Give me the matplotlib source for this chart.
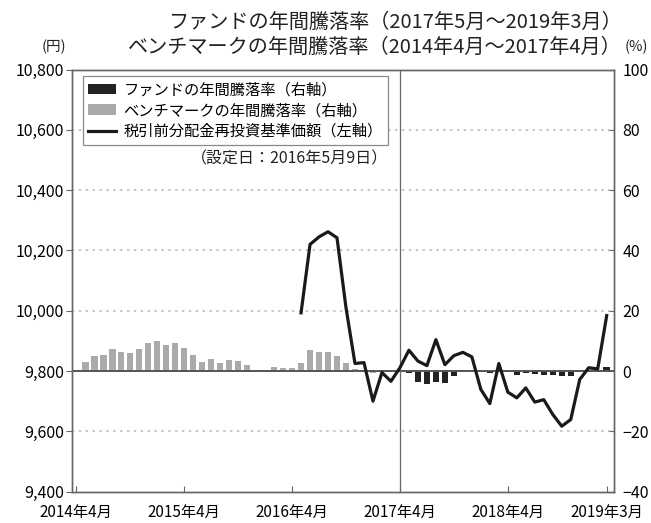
import numpy as np
import matplotlib
matplotlib.use('Agg')
import matplotlib.pyplot as plt
from matplotlib.patches import Patch
from matplotlib.lines import Line2D

plt.rcParams['font.family'] = ['Noto Sans CJK JP', 'DejaVu Sans']

# month index 0 = 2014年4月 ... 59 = 2019年3月
tick_pos = [0, 12, 24, 36, 48, 59]
tick_labels = ['2014年4月', '2015年4月', '2016年4月', '2017年4月', '2018年4月', '2019年3月']

# benchmark annual return (%), 2014年4月 ~ 2017年4月
bench_start = 0
bench_pct = [0.3, 3.0, 5.0, 5.2, 7.4, 6.3, 6.0, 7.4, 9.2, 9.9, 8.7, 9.2, 7.7,
             5.3, 3.1, 3.9, 2.5, 3.6, 3.2, 1.9, 0.4, 0.2, 1.5, 1.1, 1.1, 2.8,
             7.0, 6.2, 6.2, 5.0, 2.8, 0.8, 0.3, -0.5, 0.3, 0.5, 0.3]

# fund annual return (%), 2017年5月 ~ 2019年3月
fund_start = 37
fund_pct = [-0.5, -3.8, -4.2, -3.6, -4.0, -1.5, 0.2, 0.3, 0.0, -0.6, 0.2, -0.2,
            -1.2, -0.8, -0.9, -1.2, -1.4, -1.6, -1.6, -0.3, 0.3, 0.4, 1.2]

# NAV (円), 2016年5月 ~ 2019年3月
nav_start = 25
nav_yen = [9993, 10220, 10245, 10262, 10242, 10010, 9825, 9828, 9700, 9795,
           9766, 9811, 9869, 9833, 9818, 9904, 9821, 9851, 9862, 9847, 9739,
           9692, 9825, 9730, 9711, 9744, 9697, 9705, 9656, 9617, 9639, 9772,
           9811, 9807, 9984]

left_ticks = [9400, 9600, 9800, 10000, 10200, 10400, 10600, 10800]
right_ticks = [-40, -20, 0, 20, 40, 60, 80, 100]


def main():
    fig = plt.figure(figsize=(6.51, 5.23), dpi=100)
    ax = fig.add_axes([0.111, 0.06, 0.832, 0.807])
    ax2 = ax.twinx()

    # bars on the right (%) axis
    xb = np.arange(len(bench_pct)) + bench_start
    xf = np.arange(len(fund_pct)) + fund_start
    ax2.bar(xb, bench_pct, width=0.72, color='#aaaaaa', zorder=2)
    ax2.bar(xf, fund_pct, width=0.72, color='#222222', zorder=2)
    ax2.set_ylim(-40, 100)
    ax2.set_yticks(right_ticks)
    ax2.set_yticklabels(['−40', '−20', '0', '20', '40', '60', '80', '100'])

    # nav line on the left axis, drawn above the bars
    xn = np.arange(len(nav_yen)) + nav_start
    ax.set_zorder(ax2.get_zorder() + 1)
    ax.patch.set_visible(False)
    ax.plot(xn, nav_yen, color='#1a1a1a', lw=2.3, zorder=4)
    ax.set_ylim(9400, 10800)
    ax.set_yticks(left_ticks)
    ax.set_yticklabels([f'{v:,}' for v in left_ticks])

    for v in left_ticks[1:-1]:
        if v == 9800:
            ax.axhline(v, color='#555555', lw=1.4, zorder=1)
        else:
            ax.axhline(v, color='#b5b5b5', lw=1.1, ls=(0, (1.5, 3)), zorder=1)
    ax.axvline(36, color='#666666', lw=0.9, zorder=1)

    ax.set_xlim(-0.45, 59.8)
    ax.set_xticks(tick_pos)
    ax.set_xticklabels(tick_labels)

    for a in (ax, ax2):
        for s in a.spines.values():
            s.set_color('#666666')
            s.set_linewidth(1.0)
    ax.tick_params(axis='y', direction='out', length=4, color='#666666', labelsize=11.5, pad=2)
    ax.tick_params(axis='x', direction='in', length=4, color='#666666', labelsize=11, pad=9)
    ax2.tick_params(axis='y', direction='in', length=4, color='#666666', labelsize=11.5, pad=6)

    handles = [Patch(facecolor='#222222', edgecolor='none'),
               Patch(facecolor='#aaaaaa', edgecolor='none'),
               Line2D([0], [0], color='#1a1a1a', lw=2.3)]
    labels = ['ファンドの年間騰落率（右軸）', 'ベンチマークの年間騰落率（右軸）',
              '税引前分配金再投資基準価額（左軸）']
    leg = ax.legend(handles, labels, loc='upper left', bbox_to_anchor=(0.02, 0.985),
                    fontsize=11, frameon=True, fancybox=False, framealpha=1,
                    edgecolor='#888888', handlelength=1.8, handleheight=0.7,
                    handletextpad=0.5, labelspacing=0.25, borderpad=0.35,
                    borderaxespad=0)
    leg.get_frame().set_linewidth(0.9)

    fig.text(0.596, 0.697, '（設定日：2016年5月9日）', fontsize=11.5, ha='right', va='center',
             color='#222222')
    fig.text(0.955, 0.958, 'ファンドの年間騰落率（2017年5月～2019年3月）', fontsize=14.5,
             ha='right', va='center', color='#222222')
    fig.text(0.955, 0.91, 'ベンチマークの年間騰落率（2014年4月～2017年4月）', fontsize=14.5,
             ha='right', va='center', color='#222222')
    fig.text(0.083, 0.91, '(円)', fontsize=10.5, ha='center', va='center', color='#222222')
    fig.text(0.978, 0.91, '(%)', fontsize=10.5, ha='center', va='center', color='#222222')

    fig.savefig('out.png', dpi=100)


if __name__ == "__main__":
    main()
